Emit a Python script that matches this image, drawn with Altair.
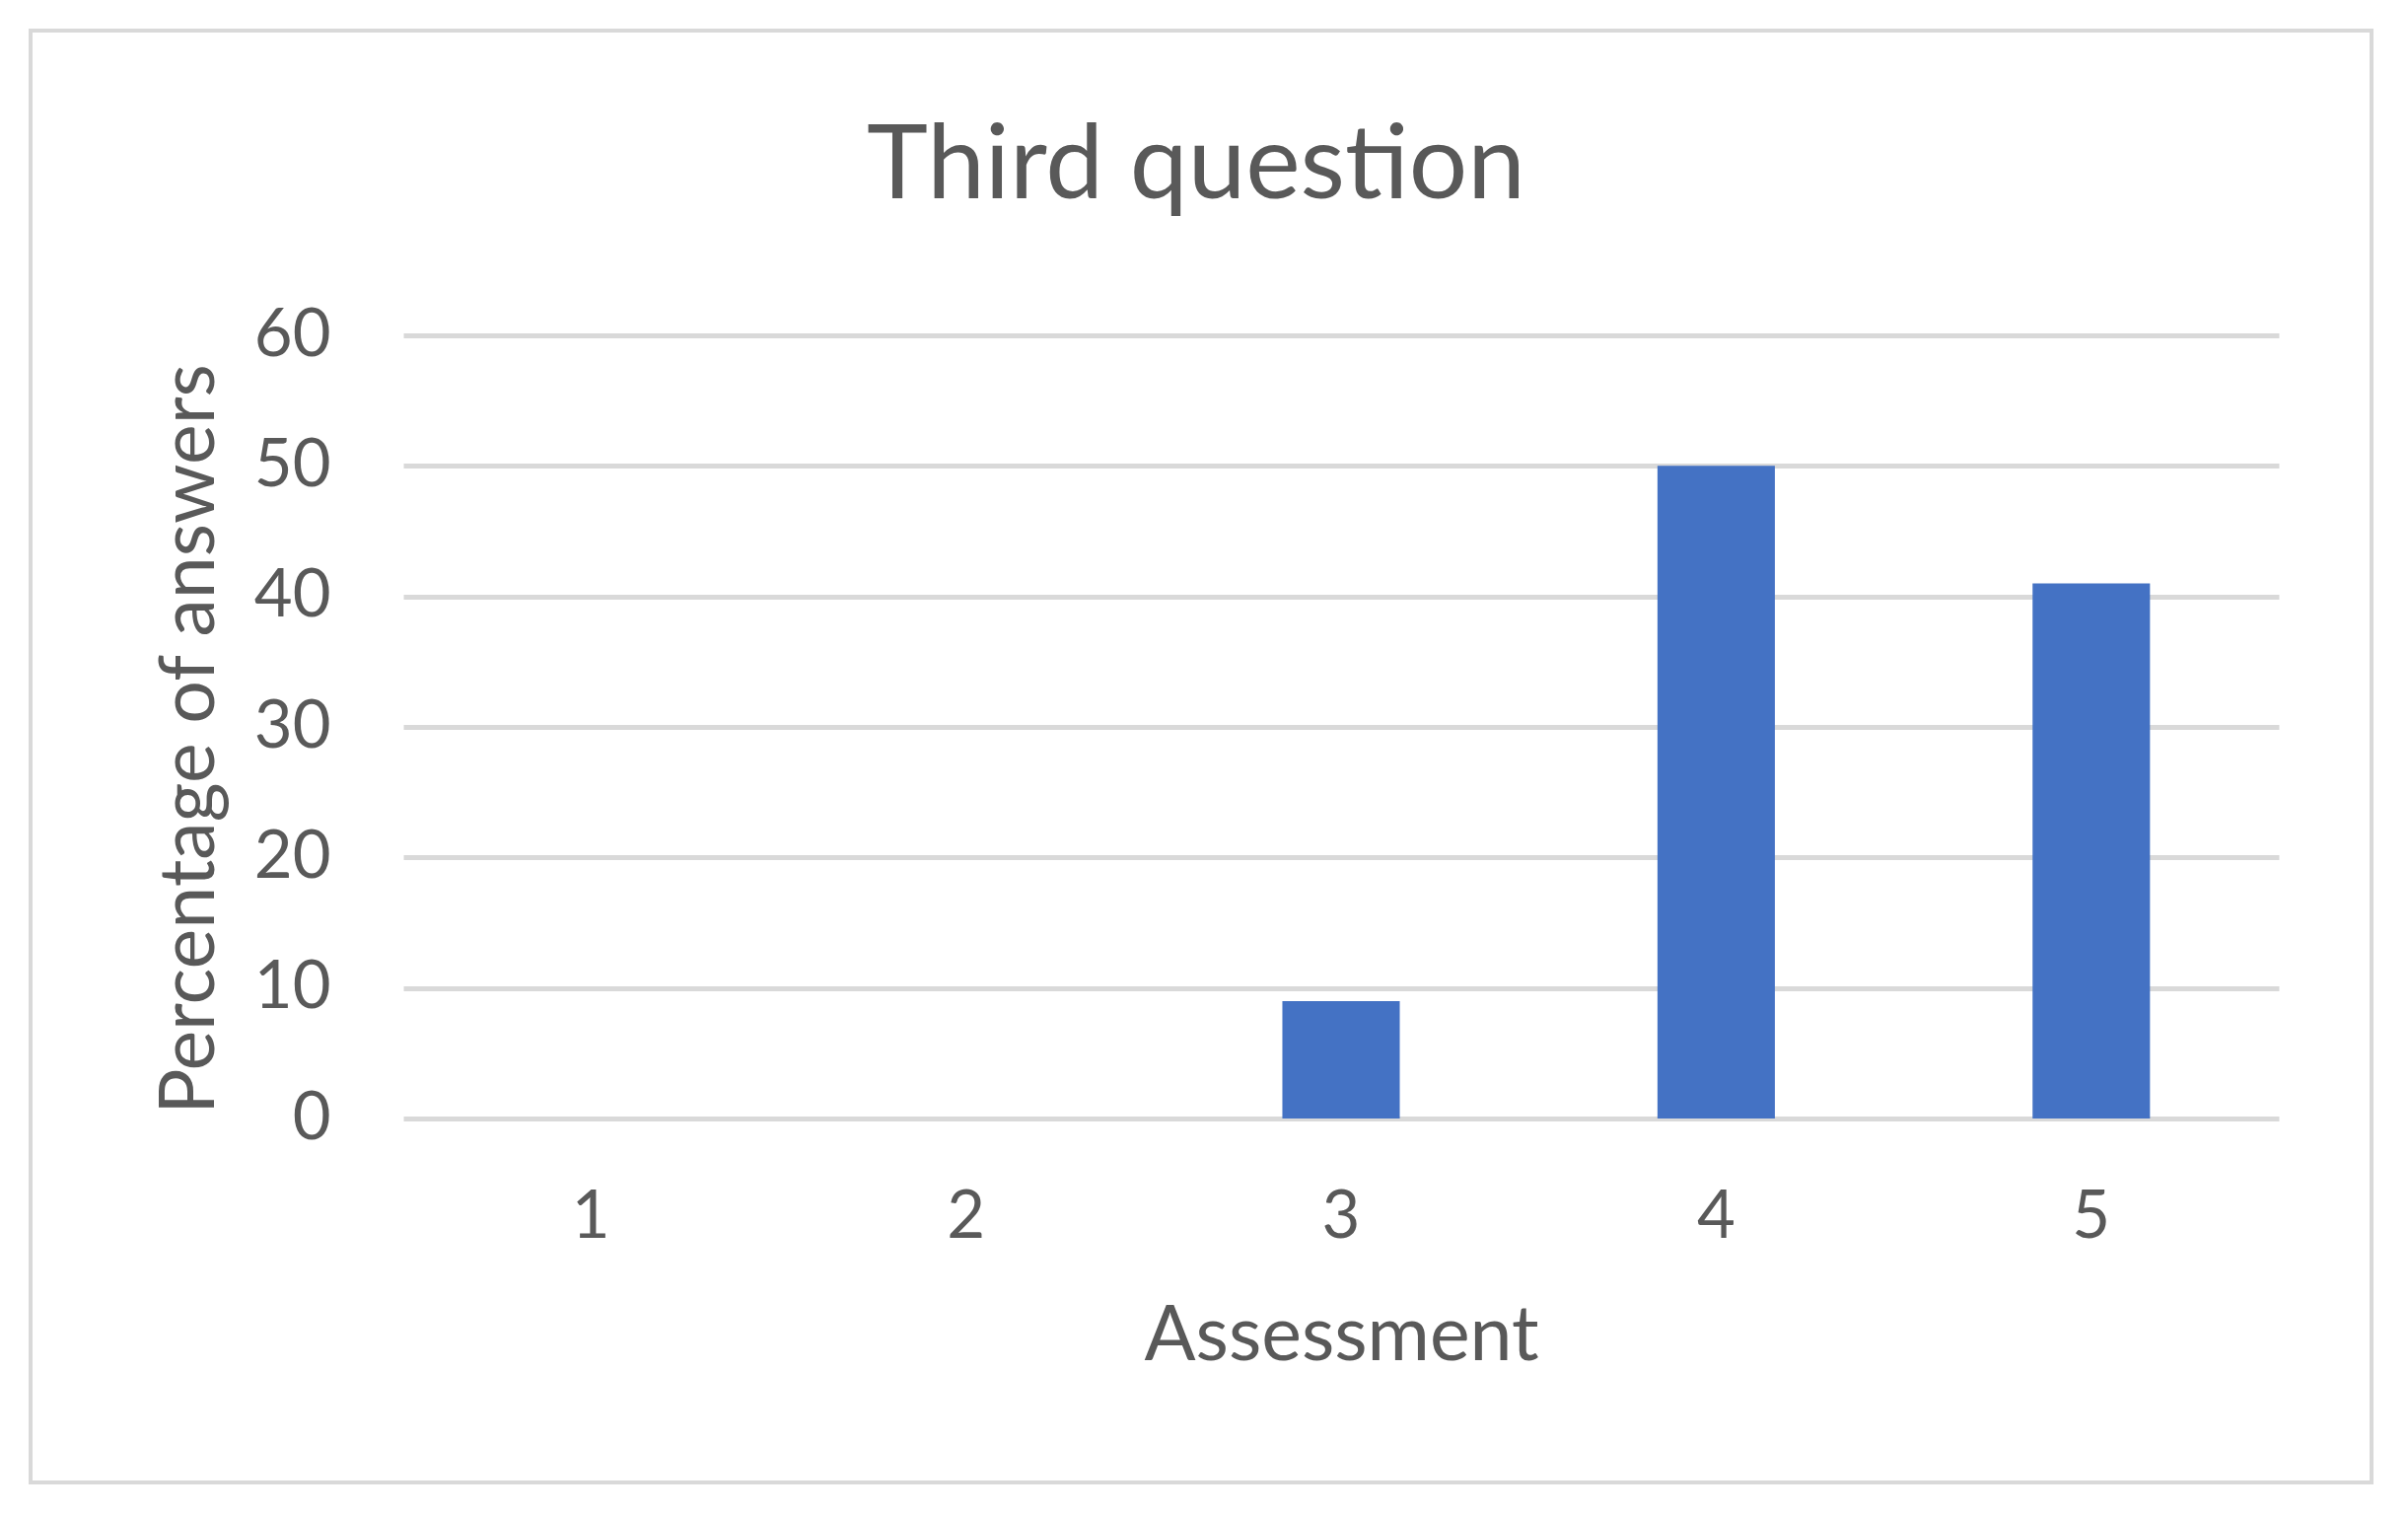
import altair as alt
import pandas as pd

categories = ["1", "2", "3", "4", "5"]
values = [0, 0, 9, 50, 41]

TEXT = "#595959"
GRID = "#d9d9d9"
BAR = "#4472c4"
FONT = "Lato"

W, H = 1902, 794

df = pd.DataFrame({"Assessment": categories, "Percentage": values})

frame = alt.Chart(pd.DataFrame({"k": [0]})).mark_rect(
    fill="white", fillOpacity=0, stroke=GRID, strokeWidth=4
).encode(
    x=alt.value(-378), x2=alt.value(1996), y=alt.value(-309), y2=alt.value(1163)
)

bars = alt.Chart(df).mark_bar(color=BAR).encode(
    x=alt.X(
        "Assessment:N",
        sort=categories,
        scale=alt.Scale(paddingInner=0.687, paddingOuter=0.3435),
        axis=alt.Axis(
            title="Assessment",
            labelAngle=0,
            labelFont=FONT, labelFontSize=67, labelColor=TEXT,
            labelPadding=67, labelBaseline="top",
            titleFont=FONT, titleFontSize=77, titleColor=TEXT,
            titleFontWeight="normal", titlePadding=50,
            ticks=False, domain=False, grid=False,
        ),
    ),
    y=alt.Y(
        "Percentage:Q",
        scale=alt.Scale(domain=[0, 60], nice=False),
        axis=alt.Axis(
            title="Percentage of answers",
            values=[0, 10, 20, 30, 40, 50, 60],
            labelFont=FONT, labelFontSize=67, labelColor=TEXT,
            labelPadding=74,
            titleFont=FONT, titleFontSize=77, titleColor=TEXT,
            titleFontWeight="normal", titlePadding=25, titleY=409,
            ticks=False, domain=False,
            grid=True, gridColor=GRID, gridWidth=5,
        ),
    ),
)

chart = alt.layer(frame, bars).properties(
    width=W,
    height=H,
    background="white",
    title=alt.TitleParams(
        "Third question",
        font=FONT, fontSize=105, fontWeight="normal", color=TEXT,
        anchor="middle", frame="group", dx=-147, offset=-277,
        baseline="alphabetic",
    ),
    autosize=alt.AutoSizeParams(type="none"),
    padding={"left": 401, "top": 332, "right": 99, "bottom": 372},
).configure_view(stroke="transparent", strokeWidth=0).configure_axis(
    domain=False, ticks=False
)

chart.save("out.html", embed_options={"renderer": "svg", "actions": False})
